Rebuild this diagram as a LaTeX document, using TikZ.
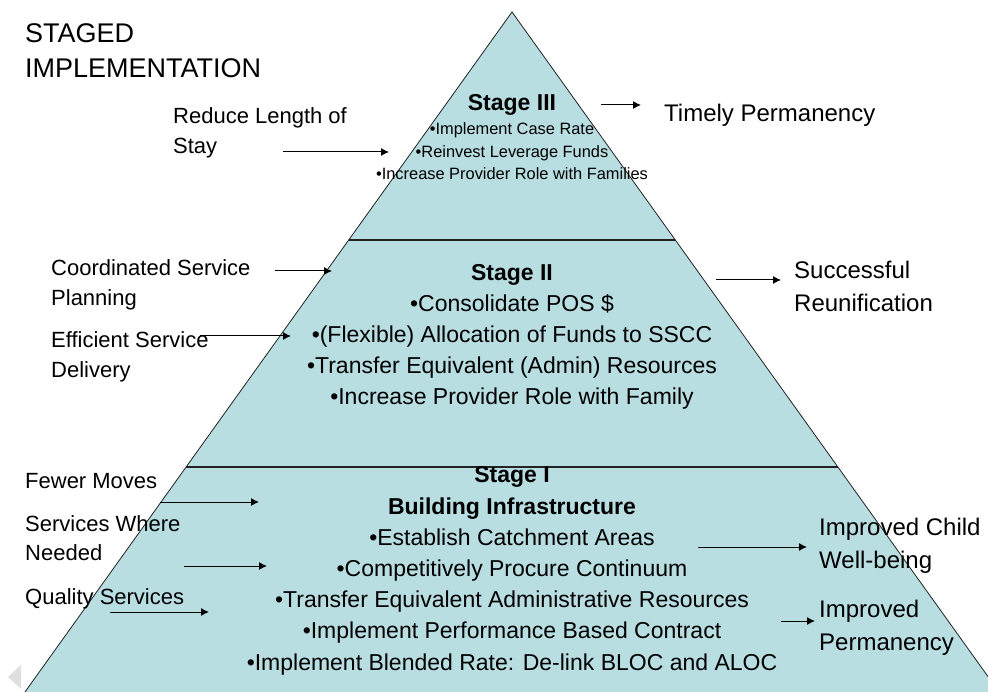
\documentclass[tikz,border=0pt]{standalone}
\usepackage{fontspec}
\setmainfont{Liberation Sans}
\usepackage{tikz}
\usetikzlibrary{arrows.meta}
\definecolor{pFill}{HTML}{B8DEE2}
\definecolor{pLine}{HTML}{222222}
% multi-line nodes sit on the baseline of their last line
\tikzset{side/.style={anchor=base west, inner sep=0pt, align=left,
  font=\fontsize{22}{30}\selectfont}}
\tikzset{goal/.style={anchor=base west, inner sep=0pt, align=left,
  font=\fontsize{24}{32.5}\selectfont}}
\tikzset{stage/.style={anchor=base, inner sep=0pt, align=center,
  font=\fontsize{23}{31.2}\selectfont}}
\tikzset{a/.style={draw, line width=1pt, -{Latex[length=8pt,width=8pt]}}}

\begin{document}
\begin{tikzpicture}[x=1pt, y=-1pt]
    \useasboundingbox (0,0) rectangle (988,692);
    %% pyramid and its two cuts
    \begin{scope}
        \clip (0,0) rectangle (988,692);
        \coordinate (top) at (512,12);
        \coordinate (bl) at (13.5,708);
        \coordinate (br) at (1010.5,708);
        \filldraw[fill=pFill, draw=pLine, line width=0.8pt] (top) -- (bl) -- (br) -- cycle;
    \end{scope}
    \coordinate (l3) at (348.7,240);
    \coordinate (r3) at (675.3,240);
    \coordinate (l2) at (186.1,467);
    \coordinate (r2) at (837.9,467);
    \draw[pLine, line width=1.1pt] (l3) -- (r3);
    \draw[pLine, line width=1.1pt] (l2) -- (r2);
    \fill[gray!25] (8,677) -- (21,665) -- (21,689) -- cycle;
    %%
    \node (title) at (25,78) [side, font=\fontsize{27}{35}\selectfont] {STAGED\\IMPLEMENTATION};
    %% stages
    \node (s3) at (512,111) [stage] {\textbf{Stage III}};
    \node (s3b) at (512,180) [stage, font=\fontsize{16.4}{22.5}\selectfont]
        {•Implement Case Rate\\•Reinvest Leverage Funds\\•Increase Provider Role with Families};
    \node (s2) at (512,405) [stage] {\textbf{Stage II}\\•Consolidate POS \$\\
        •(Flexible) Allocation of Funds to SSCC\\•Transfer Equivalent (Admin) Resources\\
        •Increase Provider Role with Family};
    \node (s1) at (512,670) [stage] {\textbf{Stage I}\\\textbf{Building Infrastructure}\\
        •Establish Catchment Areas\\•Competitively Procure Continuum\\
        •Transfer Equivalent Administrative Resources\\•Implement Performance Based Contract\\
        •Implement Blended Rate: De-link BLOC and ALOC};
    %% inputs on the left
    \node (stay) at (173,154) [side] {Reduce Length of\\Stay};
    \node (plan) at (51,306) [side] {Coordinated Service\\Planning};
    \node (deliv) at (51,378) [side] {Efficient Service\\Delivery};
    \node (moves) at (25,488) [side] {Fewer Moves};
    \node (where) at (25,560) [side, font=\fontsize{22}{29}\selectfont] {Services Where\\Needed};
    \node (qual) at (25,604) [side] {Quality Services};
    %% outcomes on the right
    \node (timely) at (664,122) [goal] {Timely Permanency};
    \node (reun) at (794,311.5) [goal] {Successful\\Reunification};
    \node (well) at (819,568) [goal] {Improved Child\\Well-being};
    \node (perm) at (819,650) [goal] {Improved\\Permanency};
    %% arrows
    \coordinate (a1) at (283,152);  \coordinate (b1) at (389,152);
    \coordinate (a2) at (601,105);  \coordinate (b2) at (641,105);
    \coordinate (a3) at (275,271);  \coordinate (b3) at (332,271);
    \coordinate (a4) at (200,336);  \coordinate (b4) at (291,336);
    \coordinate (a5) at (716,280);  \coordinate (b5) at (781,280);
    \coordinate (a6) at (160,502);  \coordinate (b6) at (259,502);
    \coordinate (a7) at (184,566);  \coordinate (b7) at (267,566);
    \coordinate (a8) at (110,612);  \coordinate (b8) at (209,612);
    \coordinate (a9) at (698,547);  \coordinate (b9) at (807,547);
    \coordinate (a10) at (781,621); \coordinate (b10) at (815,621);
    \foreach \i in {1,...,10}
        \path[a] (a\i) to (b\i);
\end{tikzpicture}
\end{document}
